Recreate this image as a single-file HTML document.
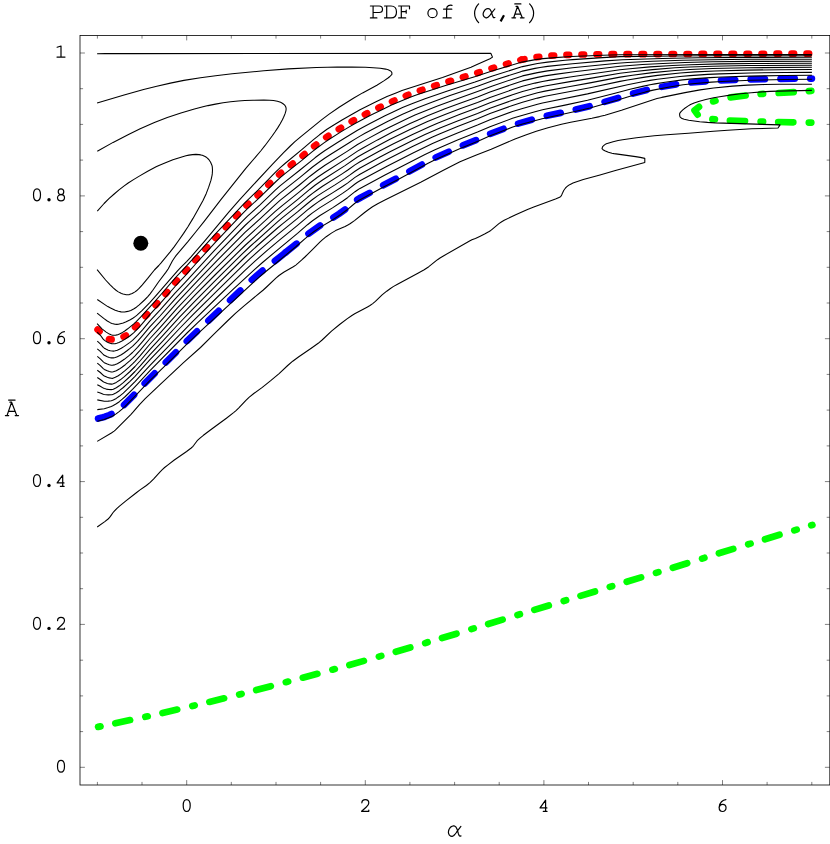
<!DOCTYPE html>
<html lang="en">
<head>
<meta charset="utf-8">
<title>PDF of (alpha, A-bar)</title>
<style>
html,body{margin:0;padding:0;background:#fff;}
body{width:830px;height:844px;overflow:hidden;font-family:"Liberation Mono",monospace;}
svg{display:block;}
</style>
</head>
<body>
<svg width="830" height="844" viewBox="0 0 830 844">
<rect x="0" y="0" width="830" height="844" fill="#fff"/>
<!-- coloured confidence curves -->
<g fill="none" stroke-width="6.7" stroke-linecap="round" stroke-linejoin="round">
<path d="M97.6 329.6 L99.5 331.4 M109 339.1 L110.2 339.4 L111.6 339.4 M123.6 336.6 L125.9 335.4 M135.1 327.2 L137 325.4 M145.4 316.3 L147.2 314.4 M155.6 305.2 L157.3 303.3 M165.5 294 L167.2 292 M175.2 282.5 L176.9 280.6 M185.4 271.5 L187.1 269.6 M195.3 260.3 L197.1 258.4 M205.4 249.2 L207.2 247.3 M215.5 238.1 L217.2 236.2 M225.8 227.2 L227.6 225.3 M236.1 216.3 L237.9 214.4 M246.5 205.5 L248.4 203.7 M257.6 195.4 L259.5 193.6 M268.4 184.9 L270.2 183.1 M279.1 174.5 L281.1 172.8 M290.8 165.1 L292.8 163.5 M302.6 155.8 L304.6 154.1 M314.1 146.2 L316.2 144.6 M326.2 137.3 L328.4 135.9 M338.8 129.2 L341 127.8 M351.7 121.5 L353.9 120.2 M364.9 114.4 L367.2 113.2 M378.4 107.8 L380.7 106.7 M392 101.5 L394.4 100.5 M405.8 95.8 L408.3 94.8 M419.9 90.7 L422.4 89.8 M434.2 86 L436.7 85.2 M448.5 81.5 L451 80.8 M462.9 77.3 L465.4 76.5 M477.3 73 L479.7 72.2 M491.5 68.4 L494 67.7 M506 64.2 L508.5 63.5 M520.4 60.1 L521.4 59.8" stroke="#f00"/>
<path d="M521.8 59.6 L524.4 59.2 M536.6 57.1 L539.2 56.8 M551.5 55.7 L554.1 55.5 M566.5 54.9 L569.1 54.8 M581.5 54.5 L584.1 54.5 M596.5 54.3 L599.1 54.3 M611.5 54.2 L614.1 54.2 M626.5 54.2 L629.1 54.2 M641.5 54.2 L644.1 54.2 M656.5 54.1 L659.1 54.1 M671.5 54 L674.1 54 M686.5 54 L689.1 54 M701.5 53.9 L704.1 53.9 M716.5 53.9 L719.1 53.9 M731.5 53.8 L734.1 53.8 M746.5 53.8 L749.1 53.8 M761.5 53.8 L764.1 53.8 M776.5 53.7 L779.1 53.7 M791.5 53.7 L794.1 53.7 M806.5 53.7 L809.1 53.7" stroke="#f00"/>
<path d="M98.1 418.6 L103.1 417.3 L105 416.7 L109.4 415 L111.5 414 M124.1 404.9 L134.1 394.8 M144.7 383.4 L154.7 373.3 M165.8 362.4 L175.9 352.3 M186.8 341.2 L197 331.3 M208.4 320.7 L218.7 310.9 M230.1 300.2 L240.4 290.5 M251.8 279.9 L257.1 275.2 L262.6 270.6 M274.9 261 L286 252.2" stroke="#00f"/>
<path d="M285.5 252.5 L296.6 243.7 M308.5 233.7 L314.1 229.7 L320.1 225.5 M333.4 217.5 L339.2 213.7 L345.1 209.5 M357.2 199.7 L360.9 197.5 L369.6 192.9 M383.2 185.3 L395.8 178.7 M409.4 171.4 L421.9 164.6 M435.7 157.5 L448.7 151.7 M462.9 145.4 L476 140.1 M490.2 133.9 L503.5 128.8 M518.1 123.6 L531.8 119.7 M546.8 115.8 L560.7 112.9 M575.8 109.5 L589.6 106.2 M604.6 101.9 L618.2 98 M633.1 93.5 L646.8 89.9 M662 86.8 L676 84.4 M691.4 82.5 L705.6 81.4 M721 80.5 L735.2 80 M750.7 79.4 L764.9 79.1 M780.5 78.9 L794.7 78.7 M810.2 78.6 L811.9 78.6" stroke="#00f"/>
<path d="M98.1 726.9 L100.5 726.4 M115.3 723.3 L130.1 720.1 M145.3 716.8 L147.7 716.3 M162.5 713 L177.2 709.6 M192.3 706 L194.7 705.4 M209.4 701.9 L224.1 698.3 M239.2 694.5 L241.6 693.9 M256.2 690.1 L270.8 686.2 M285.8 682.2 L288.2 681.6 M302.8 677.7 L317.4 673.8 M332.4 669.7 L334.8 669.1 M349.4 665 L363.9 660.9 M378.9 656.6 L381.3 655.9 M395.8 651.7 L410.3 647.5 M425.2 643.1 L427.6 642.3 M442 638 L456.5 633.7 M471.4 629.1 L473.8 628.4 M488.2 624 L502.6 619.6 M517.5 615 L519.9 614.3 M534.3 609.9 L548.8 605.5 M563.7 601 L566.1 600.3 M580.5 595.9 L595 591.5 M609.8 586.9 L612.2 586.2 M626.7 581.8 L641.1 577.4 M656 572.9 L658.4 572.1 M672.8 567.7 L687.2 563.2 M702.1 558.6 L704.4 557.8 M718.9 553.3 L733.3 548.9 M748.2 544.3 L750.6 543.6 M765 539.2 L779.5 534.8 M794.3 530.4 L796.7 529.6 M811.2 525.3 L812.4 525" stroke="#0f0"/>
<path d="M811.3 90.9 L808.8 91.1 M793.7 92.2 L778.7 93 M763.1 93.8 L760.6 94 M745.6 95.5 L730.6 97.4 M715.5 100.8 L713.1 101.4" stroke="#0f0"/>
<path d="M699 106.8 L694.5 110.3 L697.6 114.6" stroke="#0f0"/>
<path d="M712.4 119.1 L714.9 119.4 M729.9 120.5 L745 121 M760.6 121.5 L763.1 121.5 M778.2 122 L793.3 122.3 M808.8 122.6 L811.3 122.6" stroke="#0f0"/>
</g>
<!-- black contour lines -->
<g fill="none" stroke="#000" stroke-width="1.08" stroke-linejoin="round" stroke-linecap="butt">
<path d="M97.1 53.8 L105.3 53.6 L132.9 53.6 L490.8 53.3 L492.5 57.1 L490 58.7 L477 64.6 L471 67.2 L442.5 77.6 L423 83.7 L402 90.6 L396 92.9 L387 96.6 L376.5 101.4 L367.5 105.9 L360 109.8 L342 120 L333 125.5 L327 129.3 L319.5 134.8 L313.5 139.6 L301.5 149.9 L285 163.5 L280.5 167.3 L276 171.6 L258 190.2 L244.5 203.1 L214.5 234.9 L187.5 264.9 L175.5 277.7 L161 294.5 L154.5 301.9 L140.6 317.2 L136.2 321.7 L133.8 323.8 L127.7 328.8 L125.1 330.7 L122.6 332.4 L119.9 333.8 L118.4 334.4 L116.9 334.9 L115.4 335.2 L114 335.3 L112.5 335.2 L111 334.8 L109.4 334.1 L106.2 332.1 L102 328.8 L97.1 323.6"/>
<path d="M97.1 103 L124.1 95.1 L143.6 89.6 L156.8 86.2 L170.4 83.1 L183.9 80.4 L200.5 77.7 L215.6 75.7 L232.2 73.8 L263.8 70.8 L288.3 68.9 L316.4 67.5 L327.5 67.2 L337.2 67.1 L351.7 67.1 L365.4 67.3 L373.2 67.7 L380.3 68.3 L385.6 69.1 L388.2 69.8 L390.1 70.7 L391.3 71.7 L391.9 72.8 L391.9 74.3 L389.9 76.5 L388 78 L384.2 80.6 L376.9 85.2 L362.6 92.9 L353.4 98.3 L339.1 107.3 L328.8 114.4 L321.5 119.9 L300.9 136.6 L294.9 141.7 L290.3 146 L283.6 152.7 L272.6 164.1 L252.8 185.4 L239.5 199.9 L229.2 211.6 L204.4 241.4 L190.8 257.1 L186.6 261.6 L180.8 267.4 L177.5 270.9 L154.9 296.8 L150 302.3 L142.2 310.4 L137 315.2 L135.5 316.4 L132.8 318.2 L130.3 319.7 L126.2 321.8 L123.2 322.9 L118.4 324.2 L116.8 324.4 L115 324.3 L112.1 323.5 L110.6 322.9 L107.3 321 L103.7 318.4 L97.1 313.2"/>
<path d="M97.3 151.2 L113.1 142.4 L128.5 134.4 L140.2 128.8 L154.4 122.6 L167.3 117.6 L180.9 113 L194.4 109 L202 107.1 L208 105.6 L215.5 104.1 L223.1 102.8 L230.6 101.8 L238.2 101 L244.8 100.5 L253 100.2 L263.8 100.1 L269.7 100.2 L273.5 100.5 L277.4 101.2 L280.6 102.3 L281.9 103 L283.4 104 L284.7 105.1 L285.6 106.5 L286.1 108.1 L286.1 109.4 L285.9 110.8 L285 113.9 L283.6 117.3 L282.4 119.8 L280.2 123.8 L277.7 127.9 L275.1 131.8 L272.3 135.8 L264.9 145.7 L261.1 150.5 L245.8 168.4 L220.7 199.8 L204.4 221.1 L195.7 232 L187.9 241.6 L176 255.6 L174.5 257.7 L172.5 260.8 L168.3 268.7 L165.8 272.4 L158.5 282 L152.8 290.2 L149.9 294.1 L147.8 296.6 L144.5 300 L139.2 304.9 L136.4 307.2 L133.6 309 L130.8 310.4 L127.7 311.4 L124.6 312 L122.9 312 L121.1 311.9 L118.3 311.3 L115.2 310.2 L110.6 308.1 L107.8 306.6 L105.2 304.9 L97.3 299.5"/>
<path d="M97.3 211.2 L104.1 203.5 L108.9 198.7 L114.2 194 L119 189.9 L124.2 185.9 L128.2 183 L133.5 179.6 L139.3 176.1 L147.7 171.3 L156.1 166.8 L158.9 165.4 L165.5 162.7 L172.9 159.8 L182.6 156.7 L185.9 155.8 L188.9 155.1 L192.6 154.6 L195.9 154.4 L199 154.6 L200.7 154.9 L202.3 155.3 L205.1 156.5 L206.3 157.2 L207.6 158.3 L208.8 159.5 L210.6 162.3 L211.9 165.2 L212.3 166.9 L212.5 170.2 L212.3 173.4 L212.1 175.1 L211 180.2 L208.6 187.4 L206.3 193.4 L203 200.4 L198.3 209 L193 218.4 L188.1 226.5 L183.6 233.4 L178.1 241.3 L174.1 246.9 L170 252.1 L160.9 263.1 L158.8 265.5 L154.4 270 L147.7 278.4 L142.3 284.8 L139.1 288.4 L136.5 290.8 L135 291.9 L132.2 293.5 L129.3 294.6 L127.9 294.8 L126.2 294.7 L123.1 294 L121.4 293.4 L119.7 292.6 L117.9 291.6 L115.7 290 L113.5 288.1 L109.9 284.6 L105.6 280 L97.1 269.6"/>
<path d="M97.2 332.2 L100.8 335.8 L103 338.9 L104.5 340.4 L107.1 342 L108.7 342.7 L110.2 343.3 L111.7 343.6 L113.4 343.8 L115.1 343.7 L116.8 343.3 L118.9 342.5 L121.5 341.3 L124.4 339.6 L129.8 336 L133.6 332.8 L139.1 327.3 L144.2 321.4 L150 314.4 L160.5 303.1 L175.5 286 L186 274.8 L196.5 263 L216 241.6 L238.5 217.8 L243 213.1 L247.5 208.6 L259.5 197.7 L276 181.5 L280.5 177.4 L285 173.7 L301.5 160.7 L312 151.9 L318 147.3 L324 142.9 L328.5 139.8 L340.5 132.1 L348 127.6 L355.5 123.3 L363 119.2 L370.5 115.3 L384 108.7 L391.5 105.1 L400.5 101.2 L409.5 97.5 L415.5 95.3 L423 92.7 L445.5 85.4 L475.5 76.4 L492 71 L522 62.1 L535.5 59.6 L543 58.6 L555 57.6 L571.5 56.5 L603 55.3 L619.5 54.8 L730.5 54.5 L811.9 54.5"/>
<path d="M97.3 421.3 L104.1 419.5 L108.6 417.8 L111.6 416.5 L113.1 415.7 L116.1 413.9 L119.1 411.6 L122.1 409.1 L125.1 406.3 L134.1 397.1 L149.1 381.4 L171.6 359.4 L188.1 342.9 L197.1 334.3 L258.6 277.6 L264.6 272.5 L275.1 264 L296.1 246.5 L305.1 238.6 L309.6 234.9 L314.1 231.5 L320.1 227.4 L332.1 220.2 L341.1 214.2 L347.1 209.8 L354.6 203.5 L356.1 202.3 L359.1 200.3 L383.1 187.2 L398.1 179.4 L428.1 163.3 L435.6 159.5 L459.6 148.7 L479.1 140.7 L489.6 135.9 L512.1 127.3 L515.1 126.2 L522.6 124 L542.1 118.7 L566.1 113.5 L582.6 109.8 L590.1 107.9 L617.1 100.3 L627.6 97 L635.1 94.8 L645.6 91.9 L653.1 90.1 L668.1 87.2 L683.1 84.8 L695.1 83.5 L711.6 82.1 L722.1 81.5 L750.6 80.2 L785.1 79.5 L811.9 79.2"/>
<path d="M97.2 441.4 L111.4 433 L114.1 431.1 L115.3 430.1 L130.8 414.6 L133 412.2 L139.5 404.6 L145.2 398.7 L157.9 386.6 L183.5 362.6 L200.5 347.5 L214.2 333.8 L227.4 321 L235.7 313.1 L244.1 305.8 L263.3 290 L267.1 286.5 L275.9 278.2 L279 275.5 L281.5 273.7 L284.1 272 L293.3 266.8 L295.8 265.1 L298.1 263.2 L301.5 260.2 L304.9 257 L311.4 250.6 L320.1 241.8 L322.3 239.8 L326.2 236.7 L331.4 233.1 L335.6 230.6 L345.1 226.5 L348.3 224.8 L350 223.8 L354.5 220.6 L364.6 212.5 L368.6 209.5 L372.5 206.8 L377.7 203.7 L384.4 200.2 L420.7 182.2 L442.9 170.4 L454.6 164.4 L460 161.8 L466 159.2 L476.4 154.9 L491.2 149.3 L515 139 L526.4 134.7 L536.3 131.3 L548 127.8 L561.5 124.3 L570.7 122.3 L591.9 118.3 L599.5 116.6 L605 115.2 L610.8 113.5 L621.5 110.2 L652.4 99.9 L657 98.6 L661.8 97.4 L685 92.6 L700.1 89.9 L713.6 88 L732.5 86.1 L747.6 85.1 L764.5 84.5 L779.9 84.3 L811.9 84.2"/>
<path d="M97.2 527 L104.8 521.6 L108.1 519 L109.4 517.7 L110.4 516.4 L113.1 512.5 L114.1 511.3 L117 508.3 L119.5 506.1 L125.6 501.2 L136 493 L139.7 490.1 L146.4 485.5 L150.2 482.4 L153.5 479.1 L160.1 471.8 L162.3 469.6 L164.6 467.5 L168 464.8 L174.3 460 L186.6 451.5 L191.2 448 L192.7 446.6 L193.8 445.3 L197.2 440.7 L200.3 437.8 L203.4 435.3 L211.4 429.2 L226.4 418.2 L233.6 412.6 L236 410.6 L238.6 408.1 L245.9 400.3 L249 397.3 L253.8 393.5 L262.3 387.4 L270.7 380.7 L279.1 373.6 L287.7 365.5 L292.7 361.2 L298.8 356.7 L312.3 347.5 L318.2 343.3 L322.1 340 L331.5 331.1 L339.6 324.5 L347 318.9 L351.9 315.5 L354.7 313.8 L367.5 306.9 L370 305.5 L372.7 303.6 L375.4 301.4 L382.1 294.9 L386.7 291.2 L390.1 288.7 L393.2 286.6 L397.5 284.2 L417.9 273.3 L424.2 269.8 L428.8 266.7 L437.5 259.7 L440 258 L443.8 255.7 L470 240.8 L471.9 239.8 L475.4 238.4 L479.7 236.4 L484.6 234 L488.7 231.8 L490.4 230.7 L491.5 229.8 L498.9 223.6 L501.7 221.7 L504.2 220.3 L515.7 214.7 L527.5 209.4 L533.8 207 L555.5 199 L560.2 197 L561.2 195.9 L562 194.3 L562.8 192.4 L563.7 190.5 L565.5 188 L566.6 186.9 L567.9 185.8 L570.2 184.4 L573 183.1 L575.9 182 L583.3 179.6 L600 175 L615.4 170.4 L644.8 162.4 L644.8 158.4 L640.2 157.4 L635.6 156.6 L614.1 153.6 L611.9 153.2 L608.4 152.2 L604.8 150.7 L603 149.7 L602 148.6 L602.6 146.7 L604.5 144.9 L605.7 144.1 L607.2 143.5 L613.1 141.7 L618.1 140.5 L622.6 139.7 L636.5 137.7 L654.3 135.8 L666.7 134.7 L688.4 133.2 L713.4 131.2 L727.8 130.2 L751.7 128.8 L778 128 L780.1 124.9 L715.2 122.9 L707.5 122.4 L699.7 121.7 L688.7 120.2 L684.2 119.3 L682 118.6 L680 116.8 L679.6 114.9 L679.7 113.4 L680.8 111.9 L682.8 109.9 L684.1 108.8 L687.9 106.1 L690.5 104.5 L694.1 102.9 L699.4 101.2 L705.8 99.6 L713.7 97.8 L719.7 96.7 L731.7 94.9 L740.5 93.8 L751.2 92.7 L761.9 91.9 L770 91.4 L778 91.1 L811.9 90.4"/>
<path d="M97.3 341.2 L100.3 343.8 L103.3 347.3 L104.3 348.2 L106.3 349.3 L108.3 350.2 L110.3 350.8 L112.3 351 L113.3 351.1 L115.3 350.8 L117.3 350.2 L119.3 349.3 L121.3 348.3 L124.3 346.4 L130 342.4 L132.5 340.4 L137.5 335.4 L142.5 329.8 L150 320.9 L160 310.2 L175 293.2 L185 282.6 L215 249.8 L237.5 226.3 L242.5 221.1 L247.5 216.2 L260 204.8 L275 190.4 L280 185.8 L285 181.8 L300 170 L315 157.8 L320 154 L325 150.5 L337.5 142.5 L357.5 130.3 L362.5 127.5 L370 123.5 L385 115.8 L392.5 112.2 L402.5 107.6 L412.5 103.4 L425 98.7 L447.5 90.9 L475 82 L492.5 75.9 L522.5 66.6 L537.5 63.5 L547.5 62.1 L565 60.3 L572.5 59.6 L602.5 57.6 L620 56.6 L675 56 L707.5 55.8 L811.9 55.8"/>
<path d="M97.3 348.8 L100.3 351.3 L103.3 354.5 L104.3 355.3 L107.3 356.8 L109.3 357.5 L111.3 357.9 L113.3 357.9 L114.3 357.7 L115.3 357.5 L117.3 356.8 L119.3 355.8 L121.3 354.7 L124.3 352.7 L127.3 350.5 L130 348.4 L132.5 346.3 L137.5 341.3 L142.5 335.6 L150 326.7 L160 316 L175 299.1 L217.5 253.7 L245 225.5 L250 220.8 L260 211.8 L275 197.6 L280 193.1 L300 177.3 L312.5 167 L320 161.5 L325 158 L330 154.8 L350 142.3 L355 139.1 L360 136.1 L365 133.3 L387.5 121.4 L402.5 114.2 L410 110.9 L417.5 107.7 L432.5 101.9 L450 95.6 L477.5 86.2 L492.5 80.8 L520 71.9 L522.5 71.1 L535 68.4 L540 67.5 L547.5 66.4 L572.5 63.7 L605 60.9 L622.5 59.7 L662.5 58.5 L697.5 57.8 L747.5 57.4 L811.9 57.3"/>
<path d="M97.3 356.4 L100.3 358.9 L103.3 361.9 L104.3 362.7 L107.3 364.1 L109.3 364.8 L111.3 365.2 L112.3 365.2 L114.3 364.9 L115.3 364.6 L117.3 363.7 L120.3 362 L124.3 359.3 L129.3 355.3 L132.5 352.5 L137.5 347.3 L142.5 341.6 L150 332.7 L160 321.8 L177.5 302.1 L197.5 280.9 L217.5 260.1 L245 232.4 L260 218.8 L275 204.8 L280 200.4 L300 184.5 L310 176.2 L317.5 170.5 L325 165.3 L347.5 151.1 L357.5 144.5 L367.5 138.9 L382.5 130.8 L390 126.9 L407.5 118.5 L415 115.1 L422.5 111.9 L437.5 106 L452.5 100.4 L477.5 91.5 L492.5 85.9 L512.5 79.2 L522.5 75.9 L537.5 72.6 L547.5 70.9 L572.5 67.8 L617.5 63.2 L627.5 62.5 L652.5 61.3 L682.5 60.2 L712.5 59.7 L750 59.3 L811.9 59.2"/>
<path d="M97.3 363.1 L100.3 365.6 L103.3 368.6 L104.3 369.4 L107.3 370.8 L109.3 371.5 L111.3 372 L112.3 372 L113.3 371.8 L116.3 370.7 L119.3 369.1 L122.3 367 L125.3 364.7 L130 360.7 L132.5 358.4 L135 355.8 L140 350.3 L150 338.5 L160 327.6 L177.5 307.8 L195 289.5 L215 268.9 L245 239.1 L275 211.7 L282.5 205.3 L300 191.3 L310 183 L317.5 177.3 L325 172.2 L347.5 157.9 L357.5 151.1 L362.5 148.2 L377.5 139.9 L392.5 132.1 L410 123.6 L417.5 120.2 L427.5 115.8 L445 108.8 L460 103.2 L477.5 96.9 L490 92 L512.5 84.2 L520 81.7 L522.5 80.9 L537.5 77.4 L545 75.9 L555 74.4 L572.5 72 L620 66.2 L642.5 64.5 L657.5 63.7 L685 62.5 L712.5 61.8 L752.5 61.4 L811.9 61.3"/>
<path d="M97.3 370.2 L100.3 372.5 L103.3 375.3 L104.3 376 L107.3 377.3 L109.3 377.9 L111.3 378.3 L112.3 378.4 L115.3 377.3 L118.3 375.7 L121.3 373.6 L125.3 370.4 L129.3 366.9 L132.5 363.9 L135 361.3 L140 355.8 L150 344 L160 333.1 L175 316.3 L180 310.8 L195 295.2 L215 275 L245 245.5 L275 218.1 L282.5 211.7 L297.5 199.6 L310 189.2 L315 185.3 L322.5 180 L345 165.6 L357.5 157 L365 152.7 L382.5 143.2 L390 139.3 L410 129.5 L427.5 121.6 L435 118.5 L445 114.5 L460 108.7 L477.5 102.4 L490 97.4 L512.5 89.6 L522.5 86.3 L535 83.1 L542.5 81.5 L550 80.1 L570 77 L620 69.7 L630 68.7 L650 66.9 L672.5 65.5 L690 64.7 L720 63.9 L752.5 63.5 L811.9 63.3"/>
<path d="M97.3 377.5 L100.3 379.5 L103.3 381.8 L104.3 382.3 L107.3 383.4 L109.3 383.9 L111.3 384.1 L112.3 384.1 L113.3 383.8 L116.3 382.4 L120.3 379.8 L124.3 376.6 L130 371.5 L135 366.5 L140 361 L150 349.4 L162.5 335.9 L180 316.7 L195 301.1 L215 280.9 L242.5 253.6 L250 246.5 L277.5 221.9 L282.5 217.7 L297.5 205.7 L307.5 197.3 L312.5 193.4 L317.5 189.7 L322.5 186.3 L342.5 173.6 L347.5 170.3 L355 164.9 L360 161.7 L380 150.8 L392.5 144.3 L412.5 134.4 L430 126.4 L437.5 123.2 L447.5 119.2 L460 114.3 L477.5 107.8 L490 102.8 L512.5 94.8 L522.5 91.6 L537.5 87.6 L545 86 L570 81.6 L590 78.4 L620 73.3 L632.5 71.7 L652.5 69.6 L675 67.8 L690 67 L712.5 66.2 L747.5 65.5 L811.9 65.2"/>
<path d="M97.3 384.7 L100.3 386.3 L103.3 388.1 L104.3 388.5 L106.3 389.1 L108.3 389.4 L111.3 389.6 L112.3 389.5 L113.3 389.2 L116.3 387.7 L119.3 385.8 L123.3 382.6 L130 376.5 L135 371.5 L140 366.1 L150 354.6 L162.5 341.3 L177.5 325 L192.5 309.4 L217.5 284.2 L245 257 L250 252.3 L257.5 245.5 L277.5 228 L282.5 223.8 L297.5 211.9 L307.5 203.5 L312.5 199.5 L317.5 195.9 L322.5 192.6 L335 184.9 L345 178.4 L350 174.9 L355 171.2 L360 168 L380 157 L390 151.8 L412.5 140.5 L425 134.6 L432.5 131.2 L440 128 L457.5 120.9 L477.5 113.4 L490 108.2 L512.5 100.2 L522.5 96.9 L537.5 92.8 L545 91.1 L570 86.5 L590 82.9 L620 77.1 L632.5 75.2 L652.5 72.6 L675 70.5 L690 69.5 L712.5 68.5 L747.5 67.7 L811.9 67.3"/>
<path d="M97.3 391.9 L100.3 393 L103.3 394.3 L104.3 394.5 L108.3 394.9 L111.3 394.8 L112.3 394.6 L113.3 394.2 L116.3 392.7 L119.3 390.7 L123.3 387.5 L130 381.3 L135 376.3 L150 359.7 L162.5 346.6 L180 328 L192.5 315.1 L217.5 290.3 L245 263.4 L250 258.7 L260 249.7 L277.5 234.6 L297.5 218.3 L307.5 209.9 L312.5 206 L317.5 202.4 L322.5 199 L332.5 192.9 L342.5 186.5 L347.5 183.1 L355 177.4 L360 174.2 L380 163.2 L387.5 159.3 L412.5 146.6 L432.5 137 L440 133.7 L457.5 126.5 L477.5 118.8 L490 113.6 L512.5 105.4 L522.5 102.2 L537.5 98.1 L545 96.3 L590 87.7 L620 81.4 L627.5 80 L645 77.1 L657.5 75.4 L680 73 L695 71.9 L715 71 L747.5 70.1 L780 69.7 L811.9 69.5"/>
<path d="M97.3 399.9 L104.3 401.3 L108.3 401.1 L111.3 400.7 L113.3 400 L116.3 398.4 L119.3 396.3 L123.3 393.1 L130 386.7 L135 381.7 L150 365.4 L192.5 321.6 L217.5 297 L245 270.3 L255 261.1 L267.5 250.1 L280 239.6 L297.5 225.3 L307.5 216.8 L312.5 212.9 L320 207.6 L332.5 199.9 L342.5 193.4 L347.5 189.9 L355 184 L357.5 182.3 L360 180.8 L380 170 L387.5 166 L412.5 153.3 L432.5 143.5 L440 140.2 L457.5 132.9 L477.5 125.1 L490 119.8 L512.5 111.5 L522.5 108.4 L537.5 104.2 L542.5 103 L587.5 93.9 L627.5 84.7 L642.5 81.7 L650 80.4 L657.5 79.3 L680 76.5 L690 75.6 L707.5 74.4 L720 73.9 L750 73 L785 72.5 L811.9 72.4"/>
<path d="M97.3 409.6 L104.3 408.7 L108.3 407.6 L111.3 406.4 L113.3 405.5 L116.3 403.8 L119.3 401.7 L122.3 399.2 L125.3 396.5 L132.5 389.4 L137.5 384.1 L150 370.6 L187.5 332.5 L197.5 322.8 L232.5 289.9 L255 269.1 L262.5 262.5 L280 247.8 L297.5 233.4 L307.5 224.7 L312.5 220.8 L320 215.5 L332.5 207.9 L342.5 201.3 L347.5 197.7 L355 191.7 L357.5 190 L360 188.4 L385 175 L425 154.5 L435 149.7 L457.5 140 L477.5 132.1 L490 126.7 L512.5 118.3 L517.5 116.8 L535 111.7 L542.5 109.8 L565 105.1 L587.5 100.2 L615 93.3 L630 89.3 L642.5 86.4 L650 84.8 L655 83.9 L665 82.3 L682.5 79.9 L692.5 78.9 L710 77.6 L722.5 77 L750 76.1 L785 75.5 L811.9 75.2"/>
</g>
<!-- maximum marker -->
<circle cx="140.8" cy="243.2" r="7.5" fill="#000"/>
<!-- frame and ticks -->
<g fill="none" stroke="#000">
<rect x="80" y="35.5" width="749.8" height="749.5" stroke-width="0.8"/>
<path d="M97.4 785 v-3.1 M97.4 35.5 v3.1 M142 785 v-3.1 M142 35.5 v3.1 M186.7 785 v-4.9 M186.7 35.5 v4.9 M231.3 785 v-3.1 M231.3 35.5 v3.1 M276 785 v-3.1 M276 35.5 v3.1 M320.6 785 v-3.1 M320.6 35.5 v3.1 M365.3 785 v-4.9 M365.3 35.5 v4.9 M409.9 785 v-3.1 M409.9 35.5 v3.1 M454.6 785 v-3.1 M454.6 35.5 v3.1 M499.2 785 v-3.1 M499.2 35.5 v3.1 M543.9 785 v-4.9 M543.9 35.5 v4.9 M588.5 785 v-3.1 M588.5 35.5 v3.1 M633.2 785 v-3.1 M633.2 35.5 v3.1 M677.8 785 v-3.1 M677.8 35.5 v3.1 M722.5 785 v-4.9 M722.5 35.5 v4.9 M767.1 785 v-3.1 M767.1 35.5 v3.1 M811.8 785 v-3.1 M811.8 35.5 v3.1 M80 767.3 h4.9 M829.8 767.3 h-4.9 M80 731.6 h3.1 M829.8 731.6 h-3.1 M80 695.9 h3.1 M829.8 695.9 h-3.1 M80 660.2 h3.1 M829.8 660.2 h-3.1 M80 624.4 h4.9 M829.8 624.4 h-4.9 M80 588.7 h3.1 M829.8 588.7 h-3.1 M80 553 h3.1 M829.8 553 h-3.1 M80 517.3 h3.1 M829.8 517.3 h-3.1 M80 481.6 h4.9 M829.8 481.6 h-4.9 M80 445.9 h3.1 M829.8 445.9 h-3.1 M80 410.1 h3.1 M829.8 410.1 h-3.1 M80 374.4 h3.1 M829.8 374.4 h-3.1 M80 338.7 h4.9 M829.8 338.7 h-4.9 M80 303 h3.1 M829.8 303 h-3.1 M80 267.3 h3.1 M829.8 267.3 h-3.1 M80 231.6 h3.1 M829.8 231.6 h-3.1 M80 195.9 h4.9 M829.8 195.9 h-4.9 M80 160.1 h3.1 M829.8 160.1 h-3.1 M80 124.4 h3.1 M829.8 124.4 h-3.1 M80 88.7 h3.1 M829.8 88.7 h-3.1 M80 53 h4.9 M829.8 53 h-4.9" stroke-width="0.5"/>
</g>
<!-- tick labels (stroked Courier-like digits) -->
<g fill="none" stroke="#000" stroke-width="1.2" stroke-linecap="round" stroke-linejoin="round">
<path transform="translate(186.7 811.5)" d="M0 -11.9C2.4 -11.9 3.5 -9.4 3.5 -5.95C3.5 -2.5 2.4 0 0 0C-2.4 0 -3.5 -2.5 -3.5 -5.95C-3.5 -9.4 -2.4 -11.9 0 -11.9Z"/>
<path transform="translate(365.3 811.5)" d="M-3.45 -8.7C-3.35 -10.7 -1.8 -11.9 0 -11.9C2 -11.9 3.5 -10.5 3.5 -8.6C3.5 -6.9 2.4 -5.7 0.8 -4.3L-3.7 -0.2L3.5 -0.2L3.5 -1.3"/>
<path transform="translate(543.9 811.5)" d="M1.7 -0.1L1.7 -11.4L-3.85 -3.6L3 -3.6M-0.6 -0.1L3.1 -0.1"/>
<path transform="translate(722.5 811.5)" d="M3.4 -11.9C0.6 -11.7 -3.3 -9 -3.4 -3.9C-3.4 -1.5 -1.9 0 0.15 0C2.1 0 3.55 -1.6 3.55 -3.7C3.55 -5.8 2.1 -7.2 0.3 -7.2C-1.5 -7.2 -3.1 -5.9 -3.4 -3.7"/>
<path transform="translate(61 772.2)" d="M0 -11.9C2.4 -11.9 3.5 -9.4 3.5 -5.95C3.5 -2.5 2.4 0 0 0C-2.4 0 -3.5 -2.5 -3.5 -5.95C-3.5 -9.4 -2.4 -11.9 0 -11.9Z"/>
<path transform="translate(37 629.3)" d="M0 -11.9C2.4 -11.9 3.5 -9.4 3.5 -5.95C3.5 -2.5 2.4 0 0 0C-2.4 0 -3.5 -2.5 -3.5 -5.95C-3.5 -9.4 -2.4 -11.9 0 -11.9Z"/><circle cx="49" cy="628.4" r="1.7" fill="#000" stroke="none"/><path transform="translate(61 629.3)" d="M-3.45 -8.7C-3.35 -10.7 -1.8 -11.9 0 -11.9C2 -11.9 3.5 -10.5 3.5 -8.6C3.5 -6.9 2.4 -5.7 0.8 -4.3L-3.7 -0.2L3.5 -0.2L3.5 -1.3"/>
<path transform="translate(37 486.5)" d="M0 -11.9C2.4 -11.9 3.5 -9.4 3.5 -5.95C3.5 -2.5 2.4 0 0 0C-2.4 0 -3.5 -2.5 -3.5 -5.95C-3.5 -9.4 -2.4 -11.9 0 -11.9Z"/><circle cx="49" cy="485.5" r="1.7" fill="#000" stroke="none"/><path transform="translate(61 486.5)" d="M1.7 -0.1L1.7 -11.4L-3.85 -3.6L3 -3.6M-0.6 -0.1L3.1 -0.1"/>
<path transform="translate(37 343.6)" d="M0 -11.9C2.4 -11.9 3.5 -9.4 3.5 -5.95C3.5 -2.5 2.4 0 0 0C-2.4 0 -3.5 -2.5 -3.5 -5.95C-3.5 -9.4 -2.4 -11.9 0 -11.9Z"/><circle cx="49" cy="342.7" r="1.7" fill="#000" stroke="none"/><path transform="translate(61 343.6)" d="M3.4 -11.9C0.6 -11.7 -3.3 -9 -3.4 -3.9C-3.4 -1.5 -1.9 0 0.15 0C2.1 0 3.55 -1.6 3.55 -3.7C3.55 -5.8 2.1 -7.2 0.3 -7.2C-1.5 -7.2 -3.1 -5.9 -3.4 -3.7"/>
<path transform="translate(37 200.8)" d="M0 -11.9C2.4 -11.9 3.5 -9.4 3.5 -5.95C3.5 -2.5 2.4 0 0 0C-2.4 0 -3.5 -2.5 -3.5 -5.95C-3.5 -9.4 -2.4 -11.9 0 -11.9Z"/><circle cx="49" cy="199.8" r="1.7" fill="#000" stroke="none"/><path transform="translate(61 200.8)" d="M0 -6.1C-1.7 -6.1 -2.77 -7.4 -2.77 -9C-2.77 -10.6 -1.7 -11.9 0 -11.9C1.7 -11.9 2.77 -10.6 2.77 -9C2.77 -7.4 1.7 -6.1 0 -6.1C2.1 -6.1 3.5 -4.7 3.5 -3.05C3.5 -1.4 2.1 0 0 0C-2.1 0 -3.5 -1.4 -3.5 -3.05C-3.5 -4.7 -2.1 -6.1 0 -6.1Z"/>
<path transform="translate(61 57.2)" d="M-3.85 -9.95L0 -11.2L0 -0.1M-4 -0.1L4 -0.1"/>
</g>
<!-- title "PDF of (alpha, A-bar)" and axis labels -->
<g fill="none" stroke="#000" stroke-width="1.2" stroke-linecap="round" stroke-linejoin="round">
<path d="M370.4 6H379.1C381.3 6 382.5 7.4 382.5 9.25C382.5 11.1 381.3 12.5 379.1 12.5H373.1M373.1 6V17.9M370.4 17.9H376.9 M384.5 6H391C394.6 6 396.5 8.6 396.5 11.95C396.5 15.3 394.6 17.9 391 17.9H384.5M386.7 6V17.9 M398.6 6H409.5V8.8M401.3 6V17.9M401.3 11.7H406.2M406.2 10.2V13.2M398.6 17.9H405.7 M432.5 8.6C435.2 8.6 437.1 10.6 437.1 13.15C437.1 15.7 435.2 17.7 432.5 17.7C429.8 17.7 427.9 15.7 427.9 13.15C427.9 10.6 429.8 8.6 432.5 8.6Z M452 5.3C450.8 5.1 449.6 5.1 448.5 5.6C447.2 6.2 446.6 7.3 446.6 8.8V17.9M443.6 9.2H451.8M443.1 17.9H451.2 M478.6 3.9C476 6.6 474.6 9.8 474.6 13.3C474.6 16.8 476 20 478.6 22.7 M529.6 3.9C532.2 6.6 533.6 9.8 533.6 13.3C533.6 16.8 532.2 20 529.6 22.7 M494.8 9 L491.3 13.4 L490.3 14.9 L489.1 16.2 L487.9 17.3 L486.6 17.9 L485.3 17.6 L484.1 16.8 L483.4 15.6 L483.1 14.2 L483.3 12.9 L483.9 11.6 L484.6 10.4 L485.5 9.5 L486.7 8.8 L487.9 8.5 L489.1 8.8 L490.1 9.5 L490.8 10.6 L491.4 12.1 L492.4 15.2 L492.9 16.6 L493.5 17.6 L494.2 17.7 L494.9 17.5 M513.7 17.8 L517.6 6.3 L522.3 17.8 M515.1 14.1 L520.9 14.1 M511.9 17.8 L515.6 17.8 M520.4 17.8 L524.1 17.8 M516 6.3 L517.6 6.3 M514.8 3.9 L520.9 3.9"/><path d="M504 15.3L500.6 21.4" stroke-width="2.2" stroke-linecap="butt"/><path d="M460.9 826.4 L457.1 831.4 L456 833 L454.8 834.5 L453.5 835.7 L452.1 836.4 L450.6 836.1 L449.4 835.1 L448.7 833.8 L448.4 832.3 L448.6 830.7 L449.1 829.3 L449.9 828 L450.9 826.9 L452.2 826.2 L453.5 825.8 L454.8 826.1 L455.8 826.9 L456.6 828.2 L457.3 829.8 L458.3 833.4 L458.8 834.9 L459.5 836 L460.2 836.2 L461 835.9"/><path d="M7 415.6 L11.6 402.2 L16.8 415.6 M8.6 411.3 L15.3 411.3 M5.4 415.6 L8.7 415.6 M15.2 415.6 L18.5 415.6 M9.9 402.2 L11.6 402.2 M8.6 400.1 L15.1 400.1"/>
</g>
</svg>
</body>
</html>
